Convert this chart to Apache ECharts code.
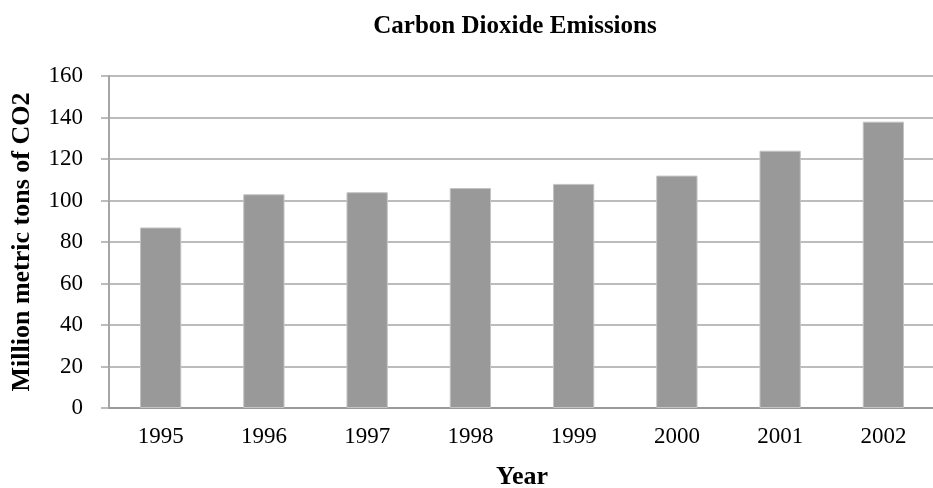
<!DOCTYPE html>
<html>
<head>
<meta charset="utf-8">
<script src="https://cdn.jsdelivr.net/npm/echarts@6/dist/echarts.min.js"></script>
<style>
  html, body { margin: 0; padding: 0; background: #fff; }
  #chart { width: 933px; height: 488px; }
</style>
</head>
<body>
<div id="chart"></div>
<script>
// Annual CO2 emissions, million metric tons
const years = ['1995', '1996', '1997', '1998', '1999', '2000', '2001', '2002'];
const emissions = [87, 103, 104, 106, 108, 112, 124, 138];

const chartTitle = 'Carbon Dioxide Emissions';
const xAxisName = 'Year';
const yAxisName = 'Million metric tons of CO2';

const serif = '"Liberation Serif", "Times New Roman", serif';
const lineGray = '#a6a6a6';

const chart = echarts.init(document.getElementById('chart'));
chart.setOption({
  animation: false,
  title: {
    text: chartTitle,
    left: 510,
    top: 9,
    textAlign: 'center',
    textStyle: { fontFamily: serif, fontWeight: 'bold', fontSize: 25, color: '#000' }
  },
  grid: {
    left: 109, right: -2, top: 76, bottom: 80,
    containLabel: false,
    outerBoundsMode: 'none'
  },
  xAxis: {
    type: 'category',
    data: years,
    name: xAxisName,
    nameLocation: 'middle',
    nameGap: 56,
    nameTextStyle: { fontFamily: serif, fontWeight: 'bold', fontSize: 26, color: '#000' },
    axisLine: { show: true, lineStyle: { color: '#9a9a9a', width: 2 } },
    axisTick: { show: false },
    axisLabel: { fontFamily: serif, fontSize: 23, color: '#000', margin: 17 }
  },
  yAxis: {
    type: 'value',
    min: 0,
    max: 160,
    interval: 20,
    name: yAxisName,
    nameLocation: 'middle',
    nameGap: 74,
    nameTextStyle: { fontFamily: serif, fontWeight: 'bold', fontSize: 26, color: '#000' },
    axisLine: { show: true, lineStyle: { color: lineGray, width: 2 } },
    axisTick: { show: true, length: 8, lineStyle: { color: lineGray, width: 1.5 } },
    axisLabel: { fontFamily: serif, fontSize: 23, color: '#000', margin: 26 },
    splitLine: { show: true, lineStyle: { color: lineGray, width: 1.5 } }
  },
  series: [{
    type: 'bar',
    data: emissions,
    barWidth: '40%',
    itemStyle: { color: '#999999', borderColor: '#c4c4c4', borderWidth: 1 }
  }]
});
</script>
</body>
</html>
